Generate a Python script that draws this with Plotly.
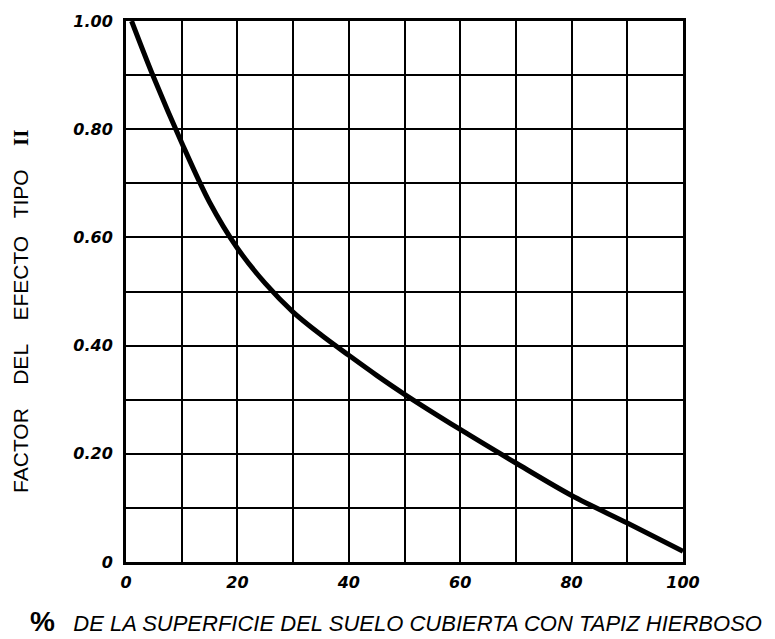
import plotly.graph_objects as go

# Percentage of ground covered with grass mat vs. Type II effect factor
cover_pct = [1, 5, 10, 15, 20, 25, 30, 35, 40, 45, 50, 60, 70, 80, 90, 100]
effect_factor = [1.00, 0.895, 0.775, 0.665, 0.58, 0.515, 0.462, 0.42, 0.382,
                 0.345, 0.31, 0.245, 0.183, 0.123, 0.072, 0.02]

x_ticks = list(range(0, 101, 10))
x_labels = ["0", "", "20", "", "40", "", "60", "", "80", "", "100"]
y_ticks = [i / 10 for i in range(0, 11)]
y_labels = ["0", "", "0.20", "", "0.40", "", "0.60", "", "0.80", "", "1.00"]

W, H = 775, 639
L, R, T, B = 126, 92, 19, 77
plot_w = W - L - R
plot_h = H - T - B

tick_font = dict(family="DejaVu Sans", size=16, color="black",
                 weight="bold", style="italic")

fig = go.Figure()
fig.add_trace(go.Scatter(
    x=cover_pct, y=effect_factor, mode="lines",
    line=dict(color="black", width=5, shape="spline", smoothing=0.9),
    hoverinfo="skip", showlegend=False,
))

axis_common = dict(
    showgrid=True, gridcolor="black", gridwidth=2,
    showline=True, linecolor="black", linewidth=3, mirror=True,
    zeroline=False, ticks="", tickfont=tick_font,
)

fig.update_xaxes(range=[0, 100], tickvals=x_ticks, ticktext=x_labels,
                 ticklabelstandoff=4, **axis_common)
fig.update_yaxes(range=[0, 1], tickvals=y_ticks, ticktext=y_labels,
                 ticklabelstandoff=7, **axis_common)

sp = "&nbsp;"
y_title = ("FACTOR" + sp * 4 + "DEL" + sp * 4 + "EFECTO" + sp * 3 + "TIPO" + sp * 4
           + "<span style='font-family:Liberation Serif'><b>II</b></span>")
x_title = ("<span style='font-size:28px'><b>%</b></span>" + sp * 3
           + "<i>DE LA SUPERFICIE DEL SUELO CUBIERTA CON TAPIZ HIERBOSO</i>")

fig.add_annotation(
    text=y_title, textangle=-90, showarrow=False,
    xref="paper", yref="paper",
    x=(21 - L) / plot_w, y=(H - B - 311) / plot_h,
    xanchor="center", yanchor="middle",
    font=dict(family="Liberation Sans", size=21, color="black"),
)
fig.add_annotation(
    text=x_title, showarrow=False,
    xref="paper", yref="paper",
    x=(396 - L) / plot_w, y=-(622 - (H - B)) / plot_h,
    xanchor="center", yanchor="middle",
    font=dict(family="Liberation Sans", size=22, color="black"),
)

fig.update_layout(
    width=W, height=H,
    margin=dict(l=L, r=R, t=T, b=B),
    paper_bgcolor="white", plot_bgcolor="white",
    showlegend=False,
)

fig.write_html("out.html")
